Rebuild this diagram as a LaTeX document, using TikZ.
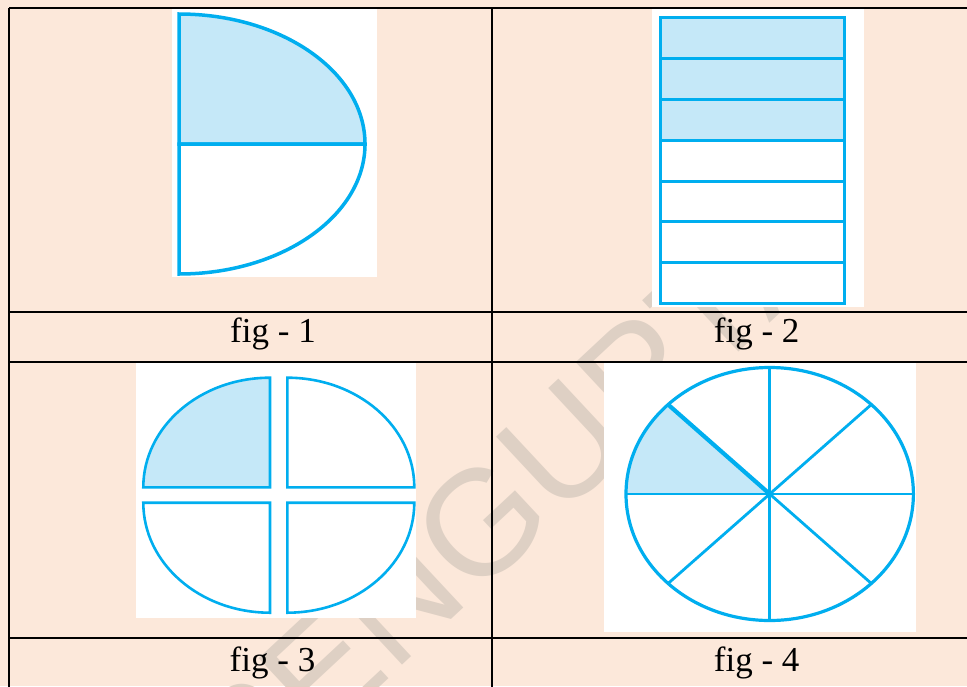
\documentclass[tikz,border=0pt]{standalone}
\usepackage{fontspec}
\setmainfont{Liberation Serif}
\newfontfamily\wmfont{Liberation Sans}
\definecolor{peach}{HTML}{FCE8DA}
\definecolor{figblue}{HTML}{00AEEF}
\definecolor{lightfill}{HTML}{C5E8F8}
\definecolor{wmcol}{HTML}{DED0C4}
\tikzset{
  gridline/.style={line width=2pt, black},
  shape1/.style={draw=figblue, line width=3.5pt, line join=miter},
  shape3/.style={draw=figblue, line width=2.6pt, line join=miter},
  spoke/.style={draw=figblue, line width=2.8pt},
  caption/.style={anchor=base, inner sep=0pt, font=\fontsize{35}{40}\selectfont},
  photo/.style={fill=white, draw=none}
}
\begin{document}
\begin{tikzpicture}[x=1pt,y=-1pt]
\useasboundingbox (0,0) rectangle (967,686);
\fill[peach] (0,0) rectangle (967,686);
% watermark
\node[rotate=43, text=wmcol, font=\wmfont\fontsize{150}{150}\selectfont, inner sep=0pt] (wm) at (510,495) {SENGUPTA};
% photo backgrounds
\fill[photo] (172,9) rectangle (377,277);
\fill[photo] (652,9) rectangle (864,307);
\fill[photo] (136,363) rectangle (416,618);
\fill[photo] (604,363) rectangle (916,632);
% fig 1
\coordinate (c1) at (179,144);
\filldraw[shape1, fill=lightfill] (c1) -- (179,14) arc(-90:0:186 and 130) -- cycle;
\draw[shape1] (c1) -- (365,144) arc(0:90:186 and 130) -- cycle;
% fig 2
\fill[lightfill] (660,17.7) rectangle (844,140.3);
\draw[shape1, line width=3pt] (660,17.7) rectangle (844,303.7);
\foreach \k in {1,...,6}{
  \draw[figblue, line width=3pt] (660,{17.7+40.857*\k}) -- (844,{17.7+40.857*\k});
}
% fig 3
\filldraw[shape3, fill=lightfill] (270,487.3) -- (143.3,487.3) arc(180:270:126.7 and 109.6) -- cycle;
\draw[shape3] (287.3,487.3) -- (287.3,377.7) arc(270:360:127 and 109.6) -- cycle;
\draw[shape3] (270,502.7) -- (270,612.7) arc(90:180:126.7 and 110) -- cycle;
\draw[shape3] (287.3,502.7) -- (414.3,502.7) arc(0:90:127 and 110) -- cycle;
% fig 4
\coordinate (c4) at (769.7,494);
\fill[lightfill] (c4) -- ++(-143.7,0) arc(180:225:143.7 and 126.5) -- cycle;
\draw[figblue, line width=3.2pt] (c4) ellipse [x radius=143.7, y radius=126.5];
\foreach \a in {0,45,90,135,180,270,315}{
  \draw[spoke] (c4) -- ++(\a:143.7 and 126.5);
}
\draw[spoke, line width=4.2pt] (c4) -- ++(225:143.7 and 126.5);
% table grid
\draw[gridline] (9,8) -- (970,8);
\draw[gridline] (9,8) -- (9,690);
\draw[gridline] (492,8) -- (492,690);
\draw[gridline] (9,312) -- (970,312);
\draw[gridline] (9,362) -- (970,362);
\draw[gridline] (9,638) -- (970,638);
% captions
\node[caption] (cap1) at (273,342.7) {fig - 1};
\node[caption] (cap2) at (756.7,342.7) {fig - 2};
\node[caption] (cap3) at (272.5,671) {fig - 3};
\node[caption] (cap4) at (756.7,671) {fig - 4};
\end{tikzpicture}
\end{document}
